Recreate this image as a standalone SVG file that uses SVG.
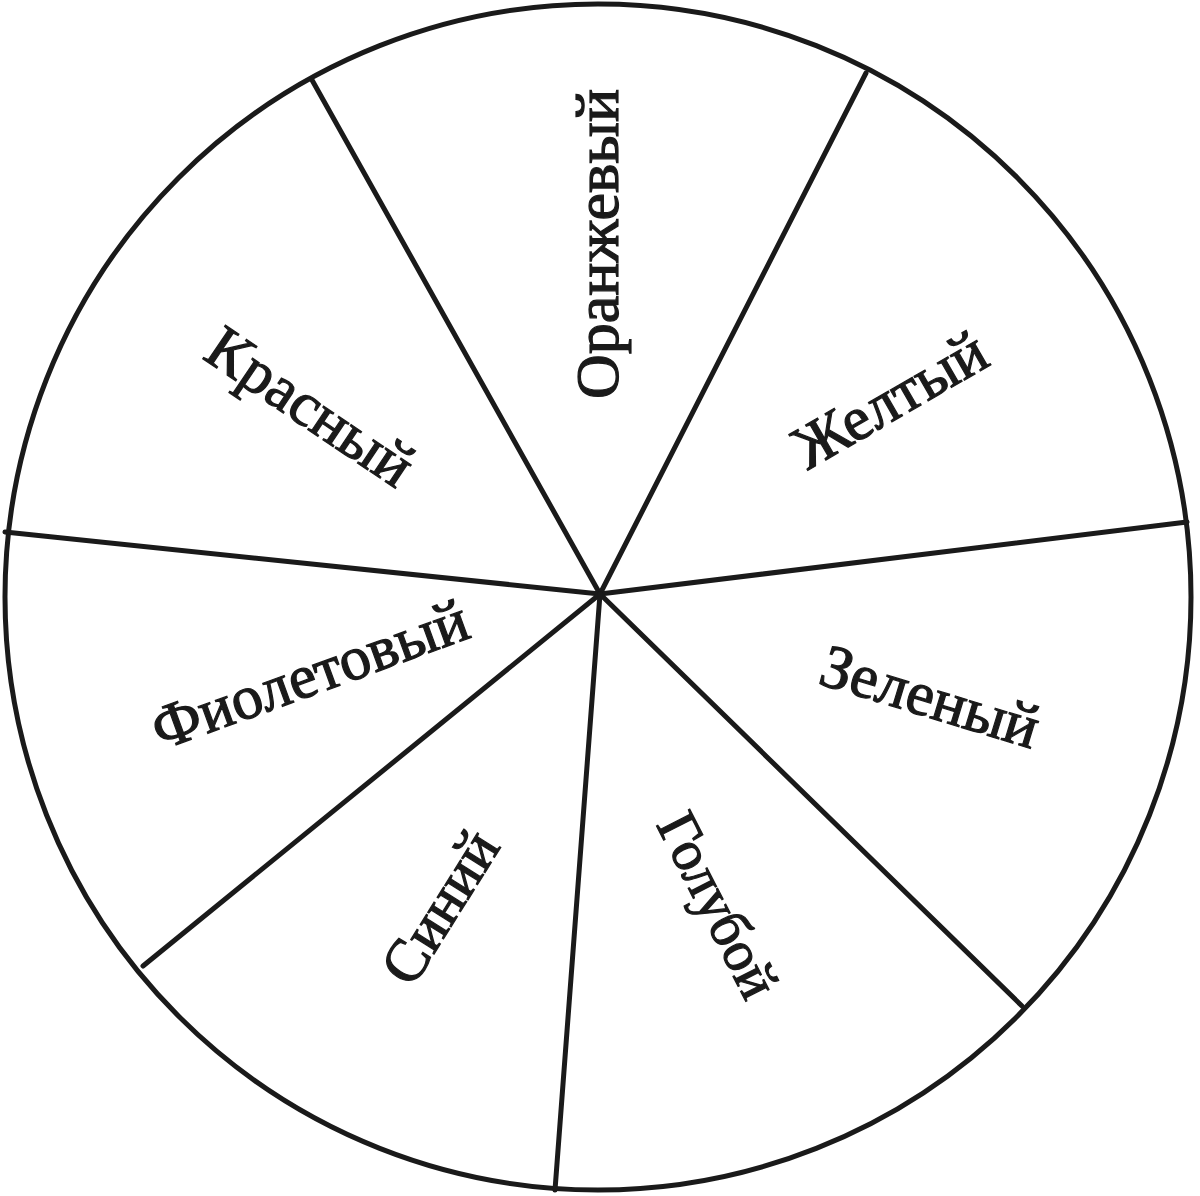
<svg xmlns="http://www.w3.org/2000/svg" width="1200" height="1196" viewBox="0 0 1200 1196">
<style>
.ln{stroke:#1a1a1a;stroke-width:5;fill:none;stroke-linecap:round}
.lb{font-family:"Liberation Serif","DejaVu Serif",serif;font-size:62px;fill:#1a1a1a;stroke:#1a1a1a;stroke-width:1.2;text-anchor:middle}
</style>
<rect width="1200" height="1196" fill="#fff"/>
<g id="wheel">
<circle class="ln" cx="598" cy="597" r="593"/>
</g>
<g id="connectors">
<line class="ln" x1="600" y1="594" x2="312" y2="80"/>
<line class="ln" x1="600" y1="594" x2="866" y2="73"/>
<line class="ln" x1="600" y1="594" x2="1187" y2="522"/>
<line class="ln" x1="600" y1="594" x2="5" y2="532"/>
<line class="ln" x1="600" y1="594" x2="143" y2="966"/>
<line class="ln" x1="600" y1="594" x2="1022" y2="1006"/>
<line class="ln" x1="600" y1="594" x2="555" y2="1190"/>
</g>
<g id="n-orange"><text class="lb" transform="translate(598,244) rotate(-90)" y="20">Оранжевый</text></g>
<g id="n-red"><text class="lb" transform="translate(310,407) rotate(34)" y="20">Красный</text></g>
<g id="n-yellow"><text class="lb" transform="translate(890,400) rotate(-30)" y="20">Желтый</text></g>
<g id="n-violet"><text class="lb" transform="translate(310,675) rotate(-20)" y="20">Фиолетовый</text></g>
<g id="n-green"><text class="lb" transform="translate(930,697) rotate(17)" y="20">Зеленый</text></g>
<g id="n-blue"><text class="lb" style="font-size:60px" transform="translate(440,907) rotate(-58)" y="20">Синий</text></g>
<g id="n-lightblue"><text class="lb" style="font-size:57px" transform="translate(718,905) rotate(63)" y="19">Голубой</text></g>
</svg>
